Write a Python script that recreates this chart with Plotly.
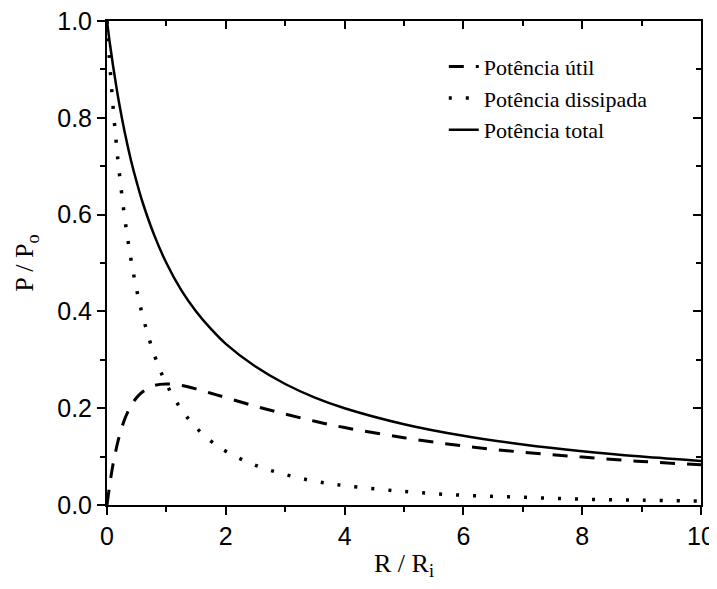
import plotly.graph_objects as go

# R / Ri values
r_ratio = [0, 0.05, 0.1, 0.15, 0.2, 0.3, 0.4, 0.5, 0.6, 0.8, 1.0, 1.25, 1.5, 1.75,
           2, 2.5, 3, 3.5, 4, 5, 6, 7, 8, 9, 10]
p_util = [0.0, 0.045, 0.083, 0.113, 0.139, 0.178, 0.204, 0.222, 0.234, 0.247, 0.250,
          0.247, 0.240, 0.231, 0.222, 0.204, 0.188, 0.173, 0.160, 0.139, 0.122,
          0.109, 0.099, 0.090, 0.083]
p_dissipada = [1.0, 0.907, 0.826, 0.756, 0.694, 0.592, 0.510, 0.444, 0.391, 0.309,
               0.250, 0.198, 0.160, 0.132, 0.111, 0.082, 0.063, 0.049, 0.040, 0.028,
               0.020, 0.016, 0.012, 0.010, 0.008]
p_total = [1.0, 0.952, 0.909, 0.870, 0.833, 0.769, 0.714, 0.667, 0.625, 0.556, 0.500,
           0.444, 0.400, 0.364, 0.333, 0.286, 0.250, 0.222, 0.200, 0.167, 0.143,
           0.125, 0.111, 0.100, 0.091]

fig = go.Figure()
fig.add_trace(go.Scatter(x=r_ratio, y=p_util, mode='lines', name='Potência útil',
                         line=dict(color='black', width=3, dash='15px,12px', shape='spline')))
fig.add_trace(go.Scatter(x=r_ratio, y=p_dissipada, mode='lines', name='Potência dissipada',
                         line=dict(color='black', width=3.5, dash='3px,14px', shape='spline')))
fig.add_trace(go.Scatter(x=r_ratio, y=p_total, mode='lines', name='Potência total',
                         line=dict(color='black', width=2.5, shape='spline')))
# empty trace so the top/right mirror axes get drawn
fig.add_trace(go.Scatter(x=[], y=[], xaxis='x2', yaxis='y2', showlegend=False))

tickfont = dict(family='Liberation Sans, Arial', size=25, color='black')
serif = 'Liberation Serif, Times New Roman'

# page body has an 8px margin; figure kept inside the window, margins fixed (no automargin)
fig.update_layout(
    width=709, height=573,
    margin=dict(l=99, r=16, t=13, b=76),
    plot_bgcolor='white', paper_bgcolor='white',
    showlegend=True,
    legend=dict(x=0.567, y=0.949, xanchor='left', yanchor='top',
                font=dict(family=serif, size=22, color='black'),
                bgcolor='rgba(0,0,0,0)', tracegroupgap=0),
    xaxis=dict(range=[0, 10], dtick=2, showgrid=False, zeroline=False, automargin=False,
               showline=True, linecolor='black', linewidth=2,
               ticks='outside', ticklen=8, tickwidth=2, tickcolor='black',
               minor=dict(dtick=1, ticks='outside', ticklen=5, tickwidth=2, tickcolor='black'),
               tickfont=tickfont, ticklabeloverflow='allow',
               title=dict(text='R / R<sub>i</sub>', font=dict(family=serif, size=26, color='black'),
                          standoff=14)),
    yaxis=dict(range=[0, 1], dtick=0.2, tickformat='.1f', showgrid=False, zeroline=False,
               automargin=False,
               showline=True, linecolor='black', linewidth=2,
               ticks='outside', ticklen=8, tickwidth=2, tickcolor='black',
               minor=dict(dtick=0.1, ticks='outside', ticklen=5, tickwidth=2, tickcolor='black'),
               tickfont=tickfont, ticklabeloverflow='allow',
               title=dict(text='P / P<sub>o</sub>', font=dict(family=serif, size=26, color='black'),
                          standoff=16)),
    xaxis2=dict(range=[0, 10], dtick=2, overlaying='x', side='top', showgrid=False, zeroline=False,
                automargin=False,
                showline=True, linecolor='black', linewidth=2, showticklabels=False,
                ticks='inside', ticklen=8, tickwidth=2, tickcolor='black',
                minor=dict(dtick=1, ticks='inside', ticklen=5, tickwidth=2, tickcolor='black')),
    yaxis2=dict(range=[0, 1], dtick=0.2, overlaying='y', side='right', showgrid=False, zeroline=False,
                automargin=False,
                showline=True, linecolor='black', linewidth=2, showticklabels=False,
                ticks='inside', ticklen=8, tickwidth=2, tickcolor='black',
                minor=dict(dtick=0.1, ticks='inside', ticklen=5, tickwidth=2, tickcolor='black')),
)

fig.write_html("out.html")
